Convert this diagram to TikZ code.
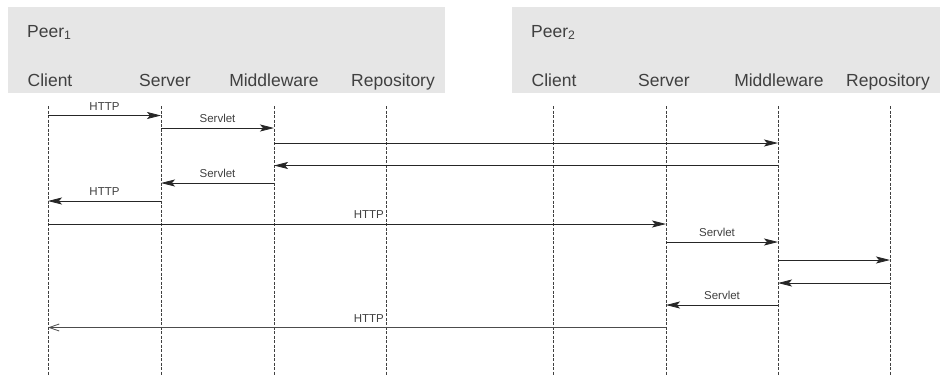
\documentclass[tikz,border=0pt]{standalone}
\usepackage{fontspec}
\setmainfont{Liberation Sans}
\usetikzlibrary{arrows.meta}
\definecolor{peerbg}{HTML}{E6E6E6}
\definecolor{txtgray}{HTML}{404040}
\tikzset{
	lifeline/.style={draw=black!75, line width=0.6pt, dash pattern=on 3pt off 1.5pt},
	msg/.style={draw=black!85, line width=0.8pt, -{Stealth[length=14pt,width=7pt,inset=3pt]}},
	reply/.style={draw=black!70, line width=0.8pt, -{Straight Barb[length=10pt,width=7pt]}},
	head/.style={text=txtgray, font=\fontsize{17.5}{21}\selectfont, anchor=base, inner sep=0pt},
	lbl/.style={text=txtgray, font=\fontsize{11.5}{13}\selectfont, inner sep=1pt},
}
\begin{document}
\begin{tikzpicture}[x=1pt, y=-1pt]
	\useasboundingbox (0,0) rectangle (940,376);
	\fill[peerbg] (8,7) rectangle (445,93);
	\fill[peerbg] (512,7) rectangle (940,93);
	\node[head, anchor=base west] (peer1) at (27,37) {Peer\textsubscript{1}};
	\node[head, anchor=base west] (peer2) at (531,37) {Peer\textsubscript{2}};
	\node[head] (client1) at (50,86) {Client};
	\node[head] (server1) at (165,86) {Server};
	\node[head] (middle1) at (274,86) {Middleware};
	\node[head] (repo1) at (393,86) {Repository};
	\node[head] (client2) at (554,86) {Client};
	\node[head] (server2) at (664,86) {Server};
	\node[head] (middle2) at (779,86) {Middleware};
	\node[head] (repo2) at (888,86) {Repository};
	\draw[lifeline] (48,106) coordinate(c1) -- (48,376);
	\draw[lifeline] (161,106) coordinate(s1) -- (161,376);
	\draw[lifeline] (274,106) coordinate(m1) -- (274,376);
	\draw[lifeline] (386,106) coordinate(r1) -- (386,376);
	\draw[lifeline] (553,106) coordinate(c2) -- (553,376);
	\draw[lifeline] (666,106) coordinate(s2) -- (666,376);
	\draw[lifeline] (778,106) coordinate(m2) -- (778,376);
	\draw[lifeline] (890,106) coordinate(r2) -- (890,376);
	\draw[msg] (c1 |- 0,115.5) -- (s1 |- 0,115.5) node[lbl, midway, above=4pt] (l1) {HTTP};
	\draw[msg] (s1 |- 0,128) -- (m1 |- 0,128) node[lbl, midway, above=4pt] (l2) {Servlet};
	\draw[msg] (m1 |- 0,143) -- (m2 |- 0,143);
	\draw[msg] (m2 |- 0,165.5) -- (m1 |- 0,165.5);
	\draw[msg] (m1 |- 0,183) -- (s1 |- 0,183) node[lbl, midway, above=4pt] (l5) {Servlet};
	\draw[msg] (s1 |- 0,201) -- (c1 |- 0,201) node[lbl, midway, above=4pt] (l6) {HTTP};
	\draw[msg] (c1 |- 0,224) -- (s2 |- 0,224);
	\node[lbl, anchor=south east] (l7) at (385,220) {HTTP};
	\draw[msg] (s2 |- 0,242) -- (m2 |- 0,242) node[lbl, midway, above=4pt, xshift=-5pt] (l8) {Servlet};
	\draw[msg] (m2 |- 0,260) -- (r2 |- 0,260);
	\draw[msg] (r2 |- 0,283) -- (m2 |- 0,283);
	\draw[msg] (m2 |- 0,305) -- (s2 |- 0,305) node[lbl, midway, above=4pt] (l11) {Servlet};
	\draw[reply] (s2 |- 0,327.5) -- (c1 |- 0,327.5);
	\node[lbl, anchor=south east] (l12) at (385,323.5) {HTTP};
\end{tikzpicture}
\end{document}
